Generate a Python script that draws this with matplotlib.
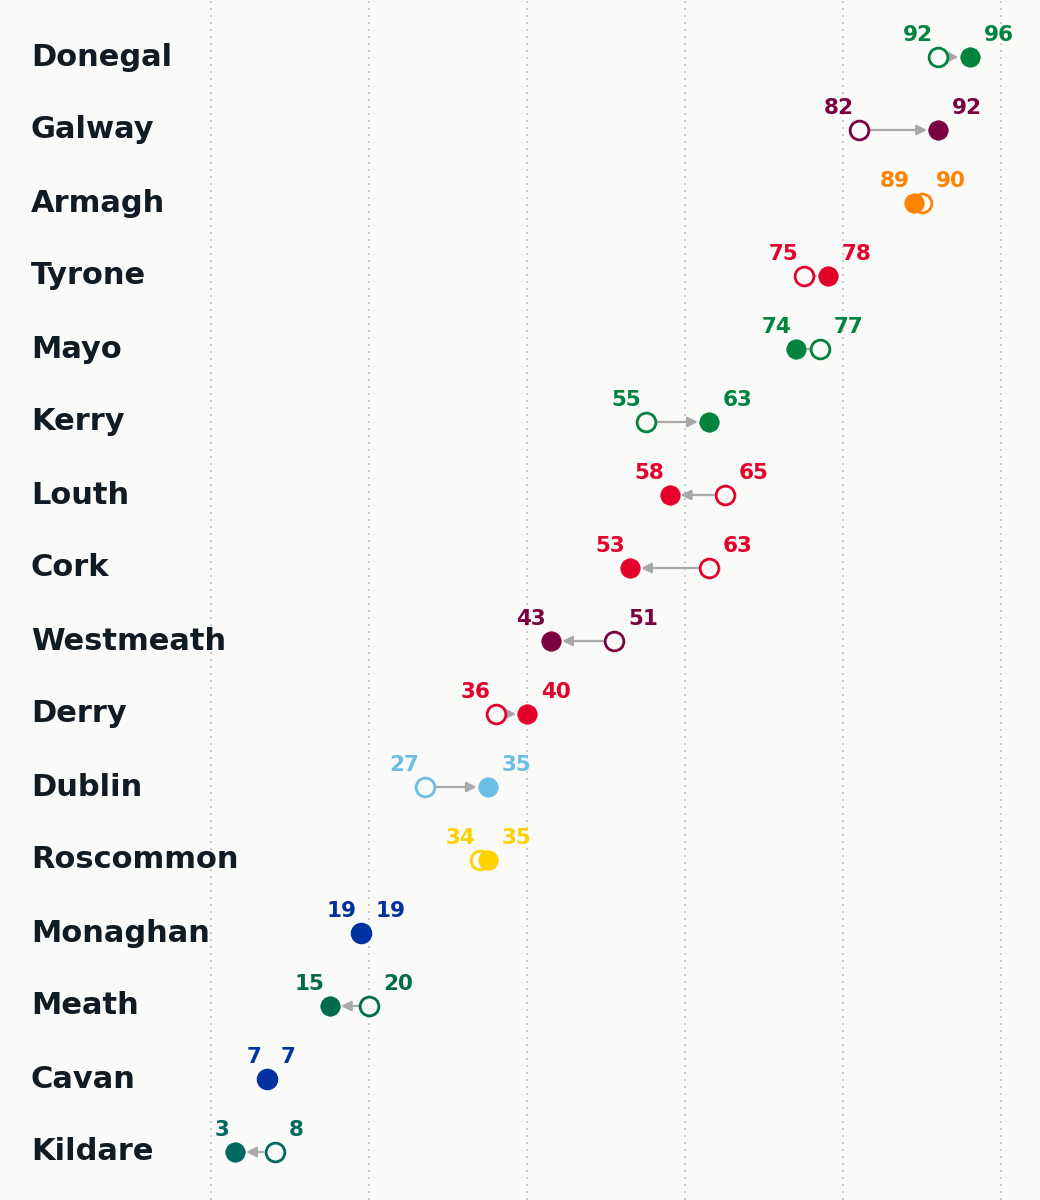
import numpy as np
import matplotlib.pyplot as plt

# valori: prima (cerchio vuoto) e dopo (cerchio pieno)
contee = ["Donegal", "Galway", "Armagh", "Tyrone", "Mayo", "Kerry", "Louth", "Cork",
          "Westmeath", "Derry", "Dublin", "Roscommon", "Monaghan", "Meath", "Cavan", "Kildare"]
prima = [92, 82, 90, 75, 77, 55, 65, 63, 51, 36, 27, 34, 19, 20, 7, 8]
dopo = [96, 92, 89, 78, 74, 63, 58, 53, 43, 40, 35, 35, 19, 15, 7, 3]
colori = ["#00843D", "#7A0040", "#FF8200", "#E4002B", "#00843D", "#00843D", "#E4002B", "#E4002B",
          "#7A0040", "#E4002B", "#6CBEE6", "#FFD100", "#0033A0", "#006B4A", "#0033A0", "#00695F"]

sfondo = "#fafaf9"
colore_testo = "#111b24"

fig = plt.figure(figsize=(10.4, 12), dpi=100, facecolor=sfondo)
ax = fig.add_axes([0, 0, 1, 1])
ax.set_facecolor(sfondo)

px_unita = 7.9
ax.set_xlim(-211.3 / px_unita, (1040 - 211.3) / px_unita)
ax.set_ylim((1200 - 57) / 73, -57 / 73)

for g in range(0, 101, 20):
    ax.axvline(g, color="#c4c4c4", lw=1.2, ls=(0, (1.2, 3)), zorder=0)

for i in range(len(contee)):
    a, b, c = prima[i], dopo[i], colori[i]
    ax.text(31 / 1040, i, contee[i], transform=ax.get_yaxis_transform(), ha="left", va="center",
            fontsize=22, fontweight="bold", color=colore_testo)
    if abs(b - a) >= 2:
        ax.annotate("", xy=(b, i), xytext=(a, i),
                    arrowprops=dict(arrowstyle="-|>,head_length=0.5,head_width=0.25", color="#a8a8a8",
                                    lw=1.6, shrinkA=8, shrinkB=8, mutation_scale=12), zorder=1)
    ax.plot(a, i, "o", ms=13.5, mfc=sfondo, mec=c, mew=2, zorder=2)
    ax.plot(b, i, "o", ms=14, mfc=c, mec=c, mew=0.5, zorder=3)
    # etichette: valore minore a sinistra, maggiore a destra
    if a <= b:
        sx, dx = a, b
    else:
        sx, dx = b, a
    ax.annotate(str(sx), (sx, i), xytext=(-5, 22), textcoords="offset pixels", ha="right", va="center",
                fontsize=15.5, fontweight="bold", color=c, zorder=4)
    ax.annotate(str(dx), (dx, i), xytext=(14, 22), textcoords="offset pixels", ha="left", va="center",
                fontsize=15.5, fontweight="bold", color=c, zorder=4)

ax.axis("off")
plt.savefig("out.png", dpi=100, facecolor=sfondo)
